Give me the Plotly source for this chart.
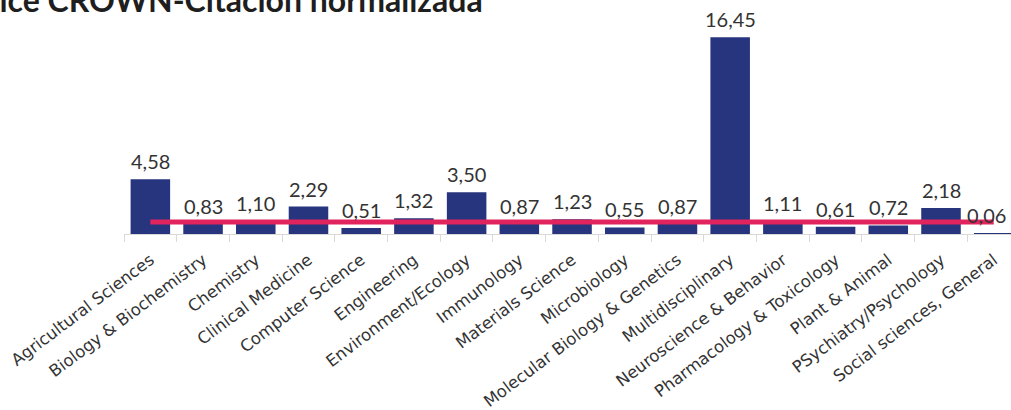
import plotly.graph_objects as go

categories = [
    "Agricultural Sciences", "Biology & Biochemistry", "Chemistry", "Clinical Medicine",
    "Computer Science", "Engineering", "Environment/Ecology", "Immunology",
    "Materials Science", "Microbiology", "Molecular Biology & Genetics", "Multidisciplinary",
    "Neuroscience & Behavior", "Pharmacology & Toxicology", "Plant & Animal",
    "PSychiatry/Psychology", "Social sciences, General",
]
values = [4.58, 0.83, 1.10, 2.29, 0.51, 1.32, 3.50, 0.87, 1.23, 0.55, 0.87, 16.45,
          1.11, 0.61, 0.72, 2.18, 0.06]
reference = [1, 1, 1, 1, 1, 1, 1, 1, 1, 1, 1, 1, 1, 1, 1, 1, 1]
title_text = "Índice CROWN-Citación normalizada"

labels = [f"{v:.2f}".replace(".", ",") for v in values]

W, H = 1011, 410
ML, MR, MT, MB = 124, 0, 10, 176
plot_w = W - ML - MR
plot_h = H - MT - MB
step = 52.71
x_max = -0.5 + plot_w / step
px_per_unit = 196.7 / 16.45
y_max = plot_h / px_per_unit

fig = go.Figure()
fig.add_trace(go.Bar(
    x=categories, y=values,
    marker=dict(color="#27357f", line=dict(width=0)),
    showlegend=False, hoverinfo="x+y",
))
fig.add_trace(go.Scatter(
    x=categories, y=reference, mode="lines",
    line=dict(color="#e2245e", width=5),
    showlegend=False,
))

n = len(categories)
for i, (c, v, t) in enumerate(zip(categories, values, labels)):
    fig.add_annotation(
        x=c, y=v, text=t, showarrow=False, xanchor="center", yanchor="bottom",
        yshift=4, xshift=(-7 if i == n - 1 else 0),
        font=dict(family="Lato, Open Sans, sans-serif", size=20, color="#333333"),
    )

fig.add_annotation(
    xref="paper", yref="paper", x=(485 - ML) / plot_w, y=(H - MB - 21) / plot_h,
    xanchor="right", yanchor="bottom", showarrow=False, text=f"<b>{title_text}</b>",
    font=dict(family="Lato, Open Sans, sans-serif", size=32, color="#1e1e1e"),
)

fig.update_layout(
    width=W, height=H,
    margin=dict(l=ML, r=MR, t=MT, b=MB, pad=0),
    paper_bgcolor="white", plot_bgcolor="white",
    bargap=0.25,
    font=dict(family="Lato, Open Sans, sans-serif", color="#333333"),
    xaxis=dict(
        type="category", range=[-0.5, x_max],
        showline=True, linecolor="#d9d9d9", linewidth=1,
        ticks="outside", ticklen=7, tickcolor="#d9d9d9", tickwidth=1,
        tickson="boundaries", tickangle=-37, ticklabelstandoff=9,
        tickfont=dict(family="DejaVu Sans, sans-serif", size=16.5, color="#333333"),
        showgrid=False, zeroline=False, fixedrange=True, automargin=False,
    ),
    yaxis=dict(
        range=[0, y_max], visible=False, showgrid=False, zeroline=False, fixedrange=True,
    ),
)

fig.write_html(
    "out.html",
    config={"displayModeBar": False},
    post_script="document.body.style.margin='0';document.body.style.overflow='hidden';",
)
